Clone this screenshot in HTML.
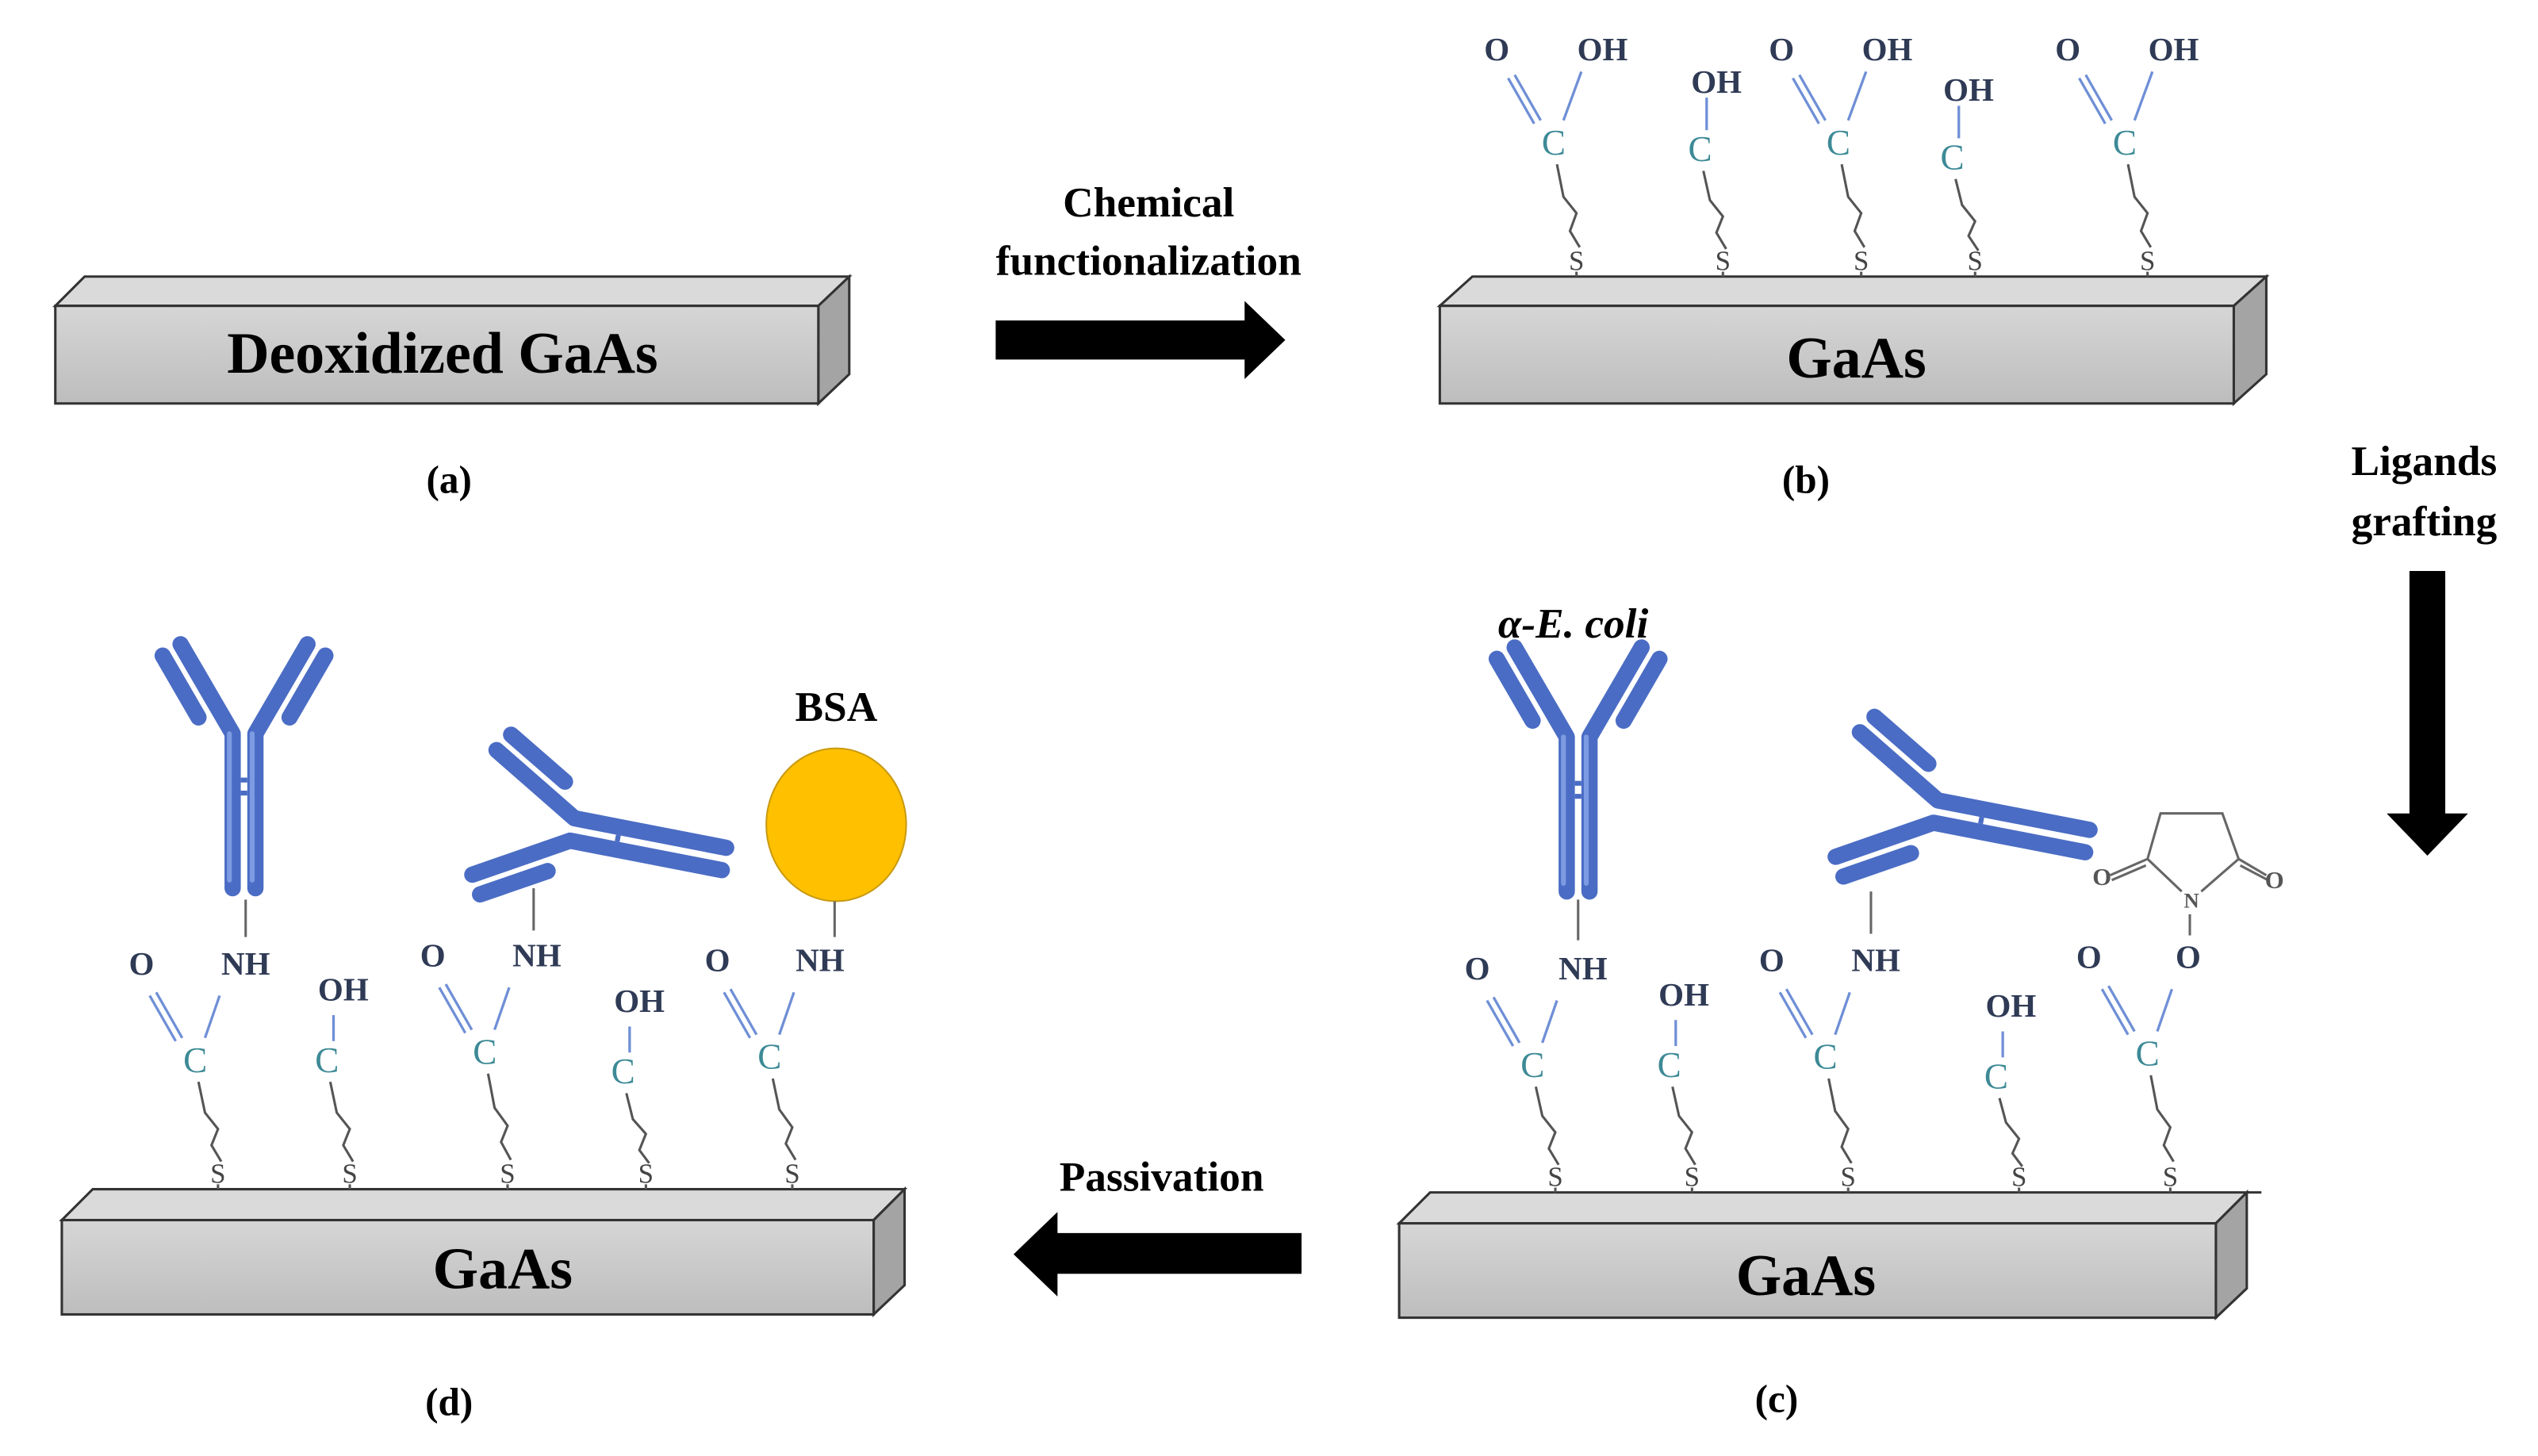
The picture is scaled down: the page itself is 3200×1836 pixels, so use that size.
<!DOCTYPE html>
<html><head><meta charset="utf-8"><style>
html,body{margin:0;padding:0;background:#fff;}
svg{display:block;}
.t{font-family:"Liberation Serif",serif;font-weight:bold;font-size:20px;fill:#2f3a55;text-anchor:middle;}
.c{font-family:"Liberation Serif",serif;font-size:22px;fill:#3d8a96;text-anchor:middle;}
.s{font-family:"Liberation Serif",serif;font-size:17px;fill:#444;text-anchor:middle;}
.bl{stroke:#6f8fd6;stroke-width:1.6;fill:none;}
.ch{stroke:#555;stroke-width:1.5;fill:none;}
.gl{stroke:#666;stroke-width:1.5;fill:none;}
.lb{font-family:"Liberation Serif",serif;font-weight:bold;fill:#000;text-anchor:middle;}
.ab path{stroke:#4a6cc4;stroke-width:10;stroke-linecap:round;stroke-linejoin:round;fill:none;}
.ab path.h{stroke:#7d9be2;stroke-width:3;}
</style></head><body>
<svg width="3200" height="1836" viewBox="0 0 1560 895" xmlns="http://www.w3.org/2000/svg">
<defs>
<linearGradient id="fr" x1="0" y1="0" x2="0" y2="1"><stop offset="0" stop-color="#d6d6d6"/><stop offset="1" stop-color="#bdbdbd"/></linearGradient>
</defs>

<!-- (a) bar -->
<polygon points="34,188 52,170 522,170 503,188" fill="#dadada" stroke="#333" stroke-width="1.5"/>
<polygon points="503,188 522,170 522,230 503,248" fill="#a4a4a4" stroke="#333" stroke-width="1.5"/>
<rect x="34" y="188" width="469" height="60" fill="url(#fr)" stroke="#333" stroke-width="1.5"/>
<text class="lb" x="272" y="229" font-size="36">Deoxidized GaAs</text>
<text class="lb" x="276" y="303" font-size="24">(a)</text>

<!-- arrow right -->
<text class="lb" x="706" y="133" font-size="26">Chemical</text>
<text class="lb" x="706" y="169" font-size="26">functionalization</text>
<polygon points="612,197 765,197 765,185 790,209 765,233 765,221 612,221" fill="#000"/>

<!-- (b) bar -->
<polygon points="885,188 905,170 1393,170 1373,188" fill="#dadada" stroke="#333" stroke-width="1.5"/>
<polygon points="1373,188 1393,170 1393,230 1373,248" fill="#a4a4a4" stroke="#333" stroke-width="1.5"/>
<rect x="885" y="188" width="488" height="60" fill="url(#fr)" stroke="#333" stroke-width="1.5"/>
<text class="lb" x="1141" y="232" font-size="36">GaAs</text>
<text class="lb" x="1110" y="303" font-size="24">(b)</text>

<!-- (b) chains -->
<g transform="translate(955,88)">
<text class="c" x="0" y="7">C</text>
<path class="bl" d="M-8,-14 L-24,-42 M-12,-12 L-28,-40 M6,-14 L17,-44"/>
<text class="t" x="-35" y="-51">O</text><text class="t" x="30" y="-51">OH</text>
<path class="ch" d="M2,13 L6,33 L14,43 L10,54 L16,64"/><text class="s" x="14" y="78">S</text><path class="ch" d="M14,79 V82"/>
</g>
<g transform="translate(1045,92)">
<text class="c" x="0" y="7">C</text>
<path class="bl" d="M4,-12 V-32"/>
<text class="t" x="10" y="-35">OH</text>
<path class="ch" d="M2,13 L6,31 L14,41 L10,51 L16,61"/><text class="s" x="14" y="74">S</text><path class="ch" d="M14,75 V78"/>
</g>
<g transform="translate(1130,88)">
<text class="c" x="0" y="7">C</text>
<path class="bl" d="M-8,-14 L-24,-42 M-12,-12 L-28,-40 M6,-14 L17,-44"/>
<text class="t" x="-35" y="-51">O</text><text class="t" x="30" y="-51">OH</text>
<path class="ch" d="M2,13 L6,33 L14,43 L10,54 L16,64"/><text class="s" x="14" y="78">S</text><path class="ch" d="M14,79 V82"/>
</g>
<g transform="translate(1200,97)">
<text class="c" x="0" y="7">C</text>
<path class="bl" d="M4,-12 V-32"/>
<text class="t" x="10" y="-35">OH</text>
<path class="ch" d="M2,13 L6,29 L14,39 L10,48 L16,57"/><text class="s" x="14" y="69">S</text><path class="ch" d="M14,70 V73"/>
</g>
<g transform="translate(1306,88)">
<text class="c" x="0" y="7">C</text>
<path class="bl" d="M-8,-14 L-24,-42 M-12,-12 L-28,-40 M6,-14 L17,-44"/>
<text class="t" x="-35" y="-51">O</text><text class="t" x="30" y="-51">OH</text>
<path class="ch" d="M2,13 L6,33 L14,43 L10,54 L16,64"/><text class="s" x="14" y="78">S</text><path class="ch" d="M14,79 V82"/>
</g>

<!-- Ligands grafting arrow -->
<text class="lb" x="1490" y="292" font-size="26">Ligands</text>
<text class="lb" x="1490" y="329" font-size="26">grafting</text>
<polygon points="1481,351 1503,351 1503,500 1517,500 1492,526 1467,500 1481,500" fill="#000"/>

<!-- (c) bar -->
<polygon points="860,752 879,733 1381,733 1362,752" fill="#dadada" stroke="#333" stroke-width="1.5"/>
<polygon points="1362,752 1381,733 1381,792 1362,810" fill="#a4a4a4" stroke="#333" stroke-width="1.5"/>
<rect x="860" y="752" width="502" height="58" fill="url(#fr)" stroke="#333" stroke-width="1.5"/>
<path d="M1381,733 H1390" stroke="#333" stroke-width="1.5"/>
<text class="lb" x="1110" y="796" font-size="36">GaAs</text>
<text class="lb" x="1092" y="868" font-size="24">(c)</text>

<!-- (c) chains -->
<g transform="translate(942,655)">
<text class="c" x="0" y="7">C</text>
<path class="bl" d="M-8,-14 L-24,-42 M-12,-12 L-28,-40 M6,-14 L15,-40"/>
<text class="t" x="-34" y="-53">O</text><text class="t" x="31" y="-53">NH</text>
<path class="ch" d="M2,13 L6,31 L14,41 L10,51 L16,61"/><text class="s" x="14" y="74">S</text><path class="ch" d="M14,75 V78"/>
</g>
<g transform="translate(1026,655)">
<text class="c" x="0" y="7">C</text>
<path class="bl" d="M4,-12 V-28"/>
<text class="t" x="9" y="-37">OH</text>
<path class="ch" d="M2,13 L6,31 L14,41 L10,51 L16,61"/><text class="s" x="14" y="74">S</text><path class="ch" d="M14,75 V78"/>
</g>
<g transform="translate(1122,650)">
<text class="c" x="0" y="7">C</text>
<path class="bl" d="M-8,-14 L-24,-42 M-12,-12 L-28,-40 M6,-14 L15,-40"/>
<text class="t" x="-33" y="-53">O</text><text class="t" x="31" y="-53">NH</text>
<path class="ch" d="M2,13 L6,33 L14,44 L10,55 L16,65"/><text class="s" x="14" y="79">S</text><path class="ch" d="M14,80 V83"/>
</g>
<g transform="translate(1227,662)">
<text class="c" x="0" y="7">C</text>
<path class="bl" d="M4,-12 V-28"/>
<text class="t" x="9" y="-37">OH</text>
<path class="ch" d="M2,13 L6,28 L14,38 L10,47 L16,55"/><text class="s" x="14" y="67">S</text><path class="ch" d="M14,68 V71"/>
</g>
<g transform="translate(1320,648)">
<text class="c" x="0" y="7">C</text>
<path class="bl" d="M-8,-14 L-24,-42 M-12,-12 L-28,-40 M6,-14 L15,-40"/>
<text class="t" x="-36" y="-53">O</text><text class="t" x="25" y="-53">O</text>
<path class="ch" d="M2,13 L6,34 L14,45 L10,56 L16,66"/><text class="s" x="14" y="81">S</text><path class="ch" d="M14,82 V85"/>
</g>
<!-- NHS ring -->
<g class="gl">
<path d="M1346,575 V562"/>
<path d="M1341,548 L1320,528 L1328,500 L1366,500 L1376,528 L1353,548"/>
<path d="M1320,528 L1297,538 M1319,532 L1298,541"/>
<path d="M1376,528 L1393,538 M1377,532 L1394,541"/>
</g>
<text x="1347" y="558" font-family="Liberation Serif,serif" font-size="13" font-weight="bold" fill="#555" text-anchor="middle">N</text>
<text x="1292" y="544" font-family="Liberation Serif,serif" font-size="15" font-weight="bold" fill="#555" text-anchor="middle">O</text>
<text x="1398" y="546" font-family="Liberation Serif,serif" font-size="15" font-weight="bold" fill="#555" text-anchor="middle">O</text>

<!-- (c) antibodies -->
<text x="967" y="392" font-family="Liberation Serif,serif" font-weight="bold" font-style="italic" font-size="26" text-anchor="middle">α-E. coli</text>
<path class="gl" d="M970,553 V578"/>
<g class="ab" transform="translate(970,548)">
<path d="M-7,0 V-95 L-39,-150"/><path d="M7,0 V-95 L39,-150"/>
<path d="M-28,-105 L-50,-143"/><path d="M28,-105 L50,-143"/>
<path class="h" d="M-9,-5 V-95"/><path class="h" d="M5,-5 V-95"/>
<rect x="-2" y="-68" width="4" height="3" fill="#4a6cc4"/><rect x="-2" y="-60" width="4" height="3" fill="#4a6cc4"/>
</g>
<path class="gl" d="M1150,548 V574"/>
<g class="ab" transform="translate(1283,517) rotate(-79)">
<path d="M-7,0 V-95 L-39,-150"/><path d="M7,0 V-95 L39,-150"/>
<path d="M-28,-105 L-50,-143"/><path d="M28,-105 L50,-143"/>
<rect x="-2" y="-68" width="4" height="3" fill="#4a6cc4"/>
</g>

<!-- Passivation arrow -->
<text class="lb" x="714" y="732" font-size="26">Passivation</text>
<polygon points="800,758 650,758 650,745 623,771 650,797 650,783 800,783" fill="#000"/>

<!-- (d) bar -->
<polygon points="38,750 57,731 556,731 537,750" fill="#dadada" stroke="#333" stroke-width="1.5"/>
<polygon points="537,750 556,731 556,790 537,808" fill="#a4a4a4" stroke="#333" stroke-width="1.5"/>
<rect x="38" y="750" width="499" height="58" fill="url(#fr)" stroke="#333" stroke-width="1.5"/>
<text class="lb" x="309" y="792" font-size="36">GaAs</text>
<text class="lb" x="276" y="870" font-size="24">(d)</text>

<!-- (d) chains -->
<g transform="translate(120,652)">
<text class="c" x="0" y="7">C</text>
<path class="bl" d="M-8,-14 L-24,-42 M-12,-12 L-28,-40 M6,-14 L15,-40"/>
<text class="t" x="-33" y="-53">O</text><text class="t" x="31" y="-53">NH</text>
<path class="ch" d="M2,13 L6,32 L14,42 L10,52 L16,62"/><text class="s" x="14" y="75">S</text><path class="ch" d="M14,76 V79"/>
</g>
<g transform="translate(201,652)">
<text class="c" x="0" y="7">C</text>
<path class="bl" d="M4,-12 V-28"/>
<text class="t" x="10" y="-37">OH</text>
<path class="ch" d="M2,13 L6,32 L14,42 L10,52 L16,62"/><text class="s" x="14" y="75">S</text><path class="ch" d="M14,76 V79"/>
</g>
<g transform="translate(298,647)">
<text class="c" x="0" y="7">C</text>
<path class="bl" d="M-8,-14 L-24,-42 M-12,-12 L-28,-40 M6,-14 L15,-40"/>
<text class="t" x="-32" y="-53">O</text><text class="t" x="32" y="-53">NH</text>
<path class="ch" d="M2,13 L6,34 L14,45 L10,55 L16,66"/><text class="s" x="14" y="80">S</text><path class="ch" d="M14,81 V84"/>
</g>
<g transform="translate(383,659)">
<text class="c" x="0" y="7">C</text>
<path class="bl" d="M4,-12 V-28"/>
<text class="t" x="10" y="-37">OH</text>
<path class="ch" d="M2,13 L6,29 L14,38 L10,48 L16,56"/><text class="s" x="14" y="68">S</text><path class="ch" d="M14,69 V72"/>
</g>
<g transform="translate(473,650)">
<text class="c" x="0" y="7">C</text>
<path class="bl" d="M-8,-14 L-24,-42 M-12,-12 L-28,-40 M6,-14 L15,-40"/>
<text class="t" x="-32" y="-53">O</text><text class="t" x="31" y="-53">NH</text>
<path class="ch" d="M2,13 L6,32 L14,43 L10,53 L16,63"/><text class="s" x="14" y="77">S</text><path class="ch" d="M14,78 V81"/>
</g>

<!-- (d) antibodies & BSA -->
<path class="gl" d="M151,553 V576"/>
<g class="ab" transform="translate(150,546)">
<path d="M-7,0 V-95 L-39,-150"/><path d="M7,0 V-95 L39,-150"/>
<path d="M-28,-105 L-50,-143"/><path d="M28,-105 L50,-143"/>
<path class="h" d="M-9,-5 V-95"/><path class="h" d="M5,-5 V-95"/>
<rect x="-2" y="-68" width="4" height="3" fill="#4a6cc4"/><rect x="-2" y="-60" width="4" height="3" fill="#4a6cc4"/>
</g>
<path class="gl" d="M328,546 V572"/>
<g class="ab" transform="translate(445,528) rotate(-79)">
<path d="M-7,0 V-95 L-39,-150"/><path d="M7,0 V-95 L39,-150"/>
<path d="M-28,-105 L-50,-143"/><path d="M28,-105 L50,-143"/>
<rect x="-2" y="-68" width="4" height="3" fill="#4a6cc4"/>
</g>
<text class="lb" x="514" y="443" font-size="26">BSA</text>
<ellipse cx="514" cy="507" rx="43" ry="47" fill="#ffc000" stroke="#c99a10" stroke-width="1"/>
<path class="gl" d="M513,554 V576"/>
</svg>
</body></html>
